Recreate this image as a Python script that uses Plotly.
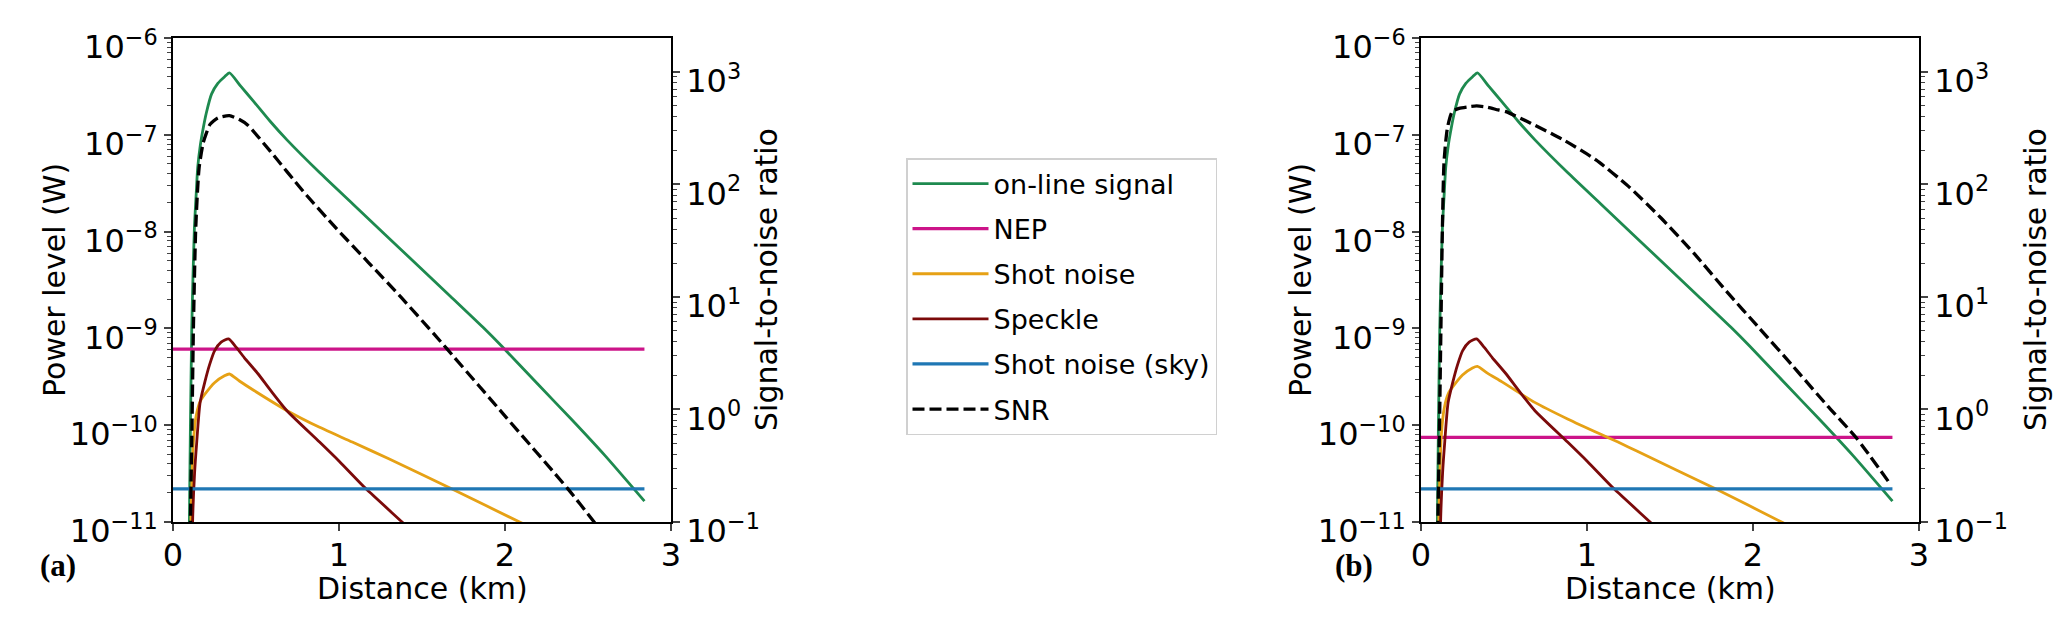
import plotly.graph_objects as go

# ---------------- data ----------------
dist_signal = [0.095, 0.100, 0.105, 0.113, 0.120, 0.129, 0.140, 0.149, 0.165, 0.182, 0.200, 0.232,
               0.270, 0.311, 0.340, 0.409, 0.488, 0.585, 0.685, 0.883, 1.080, 1.277, 1.475, 1.672,
               1.869, 1.978, 2.200, 2.400, 2.600, 2.840]
online_signal = [2.5e-12, 1.6e-11, 1.0e-10, 1.0e-9, 3.2e-9, 1.1e-8, 2.5e-8, 4.6e-8, 7.9e-8, 1.17e-7,
                 1.66e-7, 2.63e-7, 3.39e-7, 3.98e-7, 4.36e-7, 3.16e-7, 2.19e-7, 1.38e-7, 8.91e-8,
                 4.07e-8, 1.95e-8, 9.33e-9, 4.47e-9, 2.14e-9, 1.02e-9, 6.61e-10, 2.63e-10, 1.15e-10,
                 4.9e-11, 1.64e-11]

dist_speckle = [0.112, 0.118, 0.130, 0.143, 0.163, 0.192, 0.220, 0.251, 0.290, 0.335, 0.380, 0.429,
                0.512, 0.587, 0.685, 0.883, 1.004, 1.163, 1.380, 1.420]
speckle = [1e-12, 1.0e-11, 3.2e-11, 6.7e-11, 1.7e-10, 2.8e-10, 4.2e-10, 5.9e-10, 7.2e-10, 7.8e-10,
           6.4e-10, 5.0e-10, 3.4e-10, 2.3e-10, 1.42e-10, 6.7e-11, 4.2e-11, 2.2e-11, 1.0e-11, 8.6e-12]

dist_shot_a = [0.100, 0.108, 0.123, 0.140, 0.165, 0.192, 0.250, 0.310, 0.340, 0.400, 0.488, 0.685,
               0.883, 1.080, 1.300, 1.678, 2.088, 2.150]
shot_noise_a = [1e-12, 1.0e-11, 6.7e-11, 1.26e-10, 1.78e-10, 2.09e-10, 2.75e-10, 3.24e-10, 3.38e-10,
                2.86e-10, 2.28e-10, 1.42e-10, 9.5e-11, 6.7e-11, 4.5e-11, 2.2e-11, 1.0e-11, 8.9e-12]

dist_shot_b = [0.100, 0.108, 0.123, 0.140, 0.165, 0.192, 0.250, 0.310, 0.340, 0.400, 0.488, 0.685,
               0.883, 1.080, 1.187, 1.300, 1.774, 2.172, 2.230]
shot_noise_b = [1e-12, 1.2e-11, 8.1e-11, 1.5e-10, 2.14e-10, 2.5e-10, 3.3e-10, 3.9e-10, 4.05e-10,
                3.45e-10, 2.8e-10, 1.72e-10, 1.16e-10, 8.1e-11, 6.7e-11, 5.4e-11, 2.2e-11, 1.0e-11,
                8.9e-12]

dist_flat = [0.0, 2.84]
nep_a = [6.1e-10, 6.1e-10]
nep_b = [7.5e-11, 7.5e-11]
shot_sky = [2.2e-11, 2.2e-11]

dist_snr_a = [0.100, 0.105, 0.113, 0.123, 0.137, 0.157, 0.182, 0.200, 0.222, 0.270, 0.340, 0.400,
              0.449, 0.587, 0.784, 0.981, 1.179, 1.376, 1.573, 1.652, 2.007, 2.379, 2.537, 2.600]
snr_a = [0.01, 0.1, 0.51, 5.33, 41.0, 139, 234, 282, 339, 389, 408, 376, 337, 196, 86.7, 41.0, 20.1,
         9.84, 4.66, 3.43, 0.851, 0.197, 0.1, 0.076]

dist_snr_b = [0.098, 0.102, 0.110, 0.120, 0.129, 0.139, 0.159, 0.188, 0.230, 0.277, 0.335, 0.400,
              0.465, 0.512, 0.661, 0.858, 1.054, 1.250, 1.446, 1.642, 1.838, 2.035, 2.231, 2.290,
              2.450, 2.622, 2.828]
snr_b = [0.01, 0.1, 0.51, 5.33, 41.0, 160, 316, 443, 473, 486, 497, 484, 458, 443, 349, 248, 165,
         95.9, 50.2, 24.6, 11.3, 5.33, 2.52, 2.0, 1.07, 0.56, 0.216]

series_names = ["on-line signal", "NEP", "Shot noise", "Speckle", "Shot noise (sky)", "SNR"]
x_ticks = [0, 1, 2, 3]
power_exponents = [-11, -10, -9, -8, -7, -6]
snr_exponents = [-1, 0, 1, 2, 3]
panel_labels = ["(a)", "(b)"]
x_title = "Distance (km)"
y_title_left = "Power level (W)"
y_title_right = "Signal-to-noise ratio"

# ---------------- style / layout ----------------
W, H = 2067, 622
C_GREEN = "#1e8a4f"
C_NEP = "#cc1489"
C_SHOT = "#e6a115"
C_SPECK = "#7b0a0a"
C_SKY = "#1f77b4"
FONT = "DejaVu Sans"
TICK_SIZE = 32
TITLE_SIZE = 30
TOP, BOT = 30, 514
PANELS = [(165, 663), (1413, 1911)]

fig = go.Figure()


def add_panel(xa, ya, ya2, shot_x, shot_y, nep, snr_x, snr_y, show):
    sp = dict(shape="spline", smoothing=0.6)
    common = dict(xaxis=xa, yaxis=ya, mode="lines")
    fig.add_trace(go.Scatter(x=dist_signal, y=online_signal, name=series_names[0],
                             line=dict(color=C_GREEN, width=2.8, **sp), legendgroup="g0",
                             showlegend=show, **common))
    fig.add_trace(go.Scatter(x=dist_flat, y=nep, name=series_names[1],
                             line=dict(color=C_NEP, width=3.2), legendgroup="g1",
                             showlegend=show, **common))
    fig.add_trace(go.Scatter(x=shot_x, y=shot_y, name=series_names[2],
                             line=dict(color=C_SHOT, width=2.8, **sp), legendgroup="g2",
                             showlegend=show, **common))
    fig.add_trace(go.Scatter(x=dist_speckle, y=speckle, name=series_names[3],
                             line=dict(color=C_SPECK, width=2.8, **sp), legendgroup="g3",
                             showlegend=show, **common))
    fig.add_trace(go.Scatter(x=dist_flat, y=shot_sky, name=series_names[4],
                             line=dict(color=C_SKY, width=3.2), legendgroup="g4",
                             showlegend=show, **common))
    fig.add_trace(go.Scatter(x=snr_x, y=snr_y, name=series_names[5], xaxis=xa, yaxis=ya2,
                             mode="lines",
                             line=dict(color="black", width=3.3, dash="12px,5px", **sp),
                             legendgroup="g5", showlegend=show))


add_panel("x", "y", "y2", dist_shot_a, shot_noise_a, nep_a, dist_snr_a, snr_a, True)
add_panel("x2", "y3", "y4", dist_shot_b, shot_noise_b, nep_b, dist_snr_b, snr_b, False)

ydom = [1 - BOT / H, 1 - TOP / H]
tickfont = dict(family=FONT, size=TICK_SIZE, color="black")


def log_ticks(exps):
    vals = [10.0 ** e for e in exps]
    text = ["10<sup>%s</sup>" % (str(e).replace("-", "\u2212")) for e in exps]
    minor = [m * 10.0 ** e for e in exps[:-1] for m in range(2, 10)]
    return vals, text, minor


def xaxis_def(dom, anchor):
    return dict(domain=dom, anchor=anchor, range=[0, 3], tickmode="array", tickvals=x_ticks,
                ticks="outside", ticklen=7, tickwidth=1.6, showline=True, linewidth=1.6,
                linecolor="black", mirror=True, showgrid=False, zeroline=False,
                tickfont=tickfont, ticklabeloverflow="allow", ticklabelstandoff=-3)


def yaxis_def(exps, side="left", anchor="x", overlay=None):
    vals, text, minor = log_ticks(exps)
    rng = [exps[0], exps[-1]] if side == "left" else [exps[0], 3.3]
    if side == "right":
        minor = minor + [m * 10.0 ** exps[-1] for m in range(2, 10)]
    d = dict(type="log", range=rng, domain=ydom, anchor=anchor, side=side,
             tickmode="array", tickvals=vals, ticktext=text,
             ticks="outside", ticklen=7, tickwidth=1.6,
             showline=True, linewidth=1.6, linecolor="black", showgrid=False, zeroline=False,
             tickfont=tickfont, ticklabeloverflow="allow", ticklabelshift=9,
             minor=dict(tickmode="array", tickvals=minor, ticks="outside", ticklen=4,
                        tickwidth=1.2, showgrid=False))
    if overlay:
        d["overlaying"] = overlay
    return d


fig.update_layout(
    width=W, height=H,
    margin=dict(l=0, r=0, t=0, b=0, autoexpand=False),
    paper_bgcolor="white", plot_bgcolor="white",
    font=dict(family=FONT, color="black"),
    xaxis=xaxis_def([PANELS[0][0] / W, PANELS[0][1] / W], "y"),
    xaxis2=xaxis_def([PANELS[1][0] / W, PANELS[1][1] / W], "y3"),
    yaxis=yaxis_def(power_exponents, "left", "x"),
    yaxis2=yaxis_def(snr_exponents, "right", "x", overlay="y"),
    yaxis3=yaxis_def(power_exponents, "left", "x2"),
    yaxis4=yaxis_def(snr_exponents, "right", "x2", overlay="y3"),
    legend=dict(x=898 / W, y=1 - 150 / H, xanchor="left", yanchor="top",
                bgcolor="white", bordercolor="#d0d0d0", borderwidth=1.5,
                font=dict(family=FONT, size=27, color="black"),
                itemwidth=76, tracegroupgap=7, traceorder="grouped"),
    showlegend=True,
)

mid_y = 1 - (TOP + BOT) / 2 / H
title_font = dict(family=FONT, size=TITLE_SIZE, color="black")
for (x0, x1), xl, xr in zip(PANELS, [46, 1292], [758, 2027]):
    fig.add_annotation(text=x_title, x=(x0 + x1) / 2 / W, y=1 - 580 / H, xref="paper",
                       yref="paper", showarrow=False, xanchor="center", yanchor="middle",
                       font=title_font)
    fig.add_annotation(text=y_title_left, x=xl / W, y=mid_y, xref="paper", yref="paper",
                       showarrow=False, xanchor="center", yanchor="middle", textangle=-90,
                       font=title_font)
    fig.add_annotation(text=y_title_right, x=xr / W, y=mid_y, xref="paper", yref="paper",
                       showarrow=False, xanchor="center", yanchor="middle", textangle=-90,
                       font=title_font)

for lbl, xp in zip(panel_labels, [50, 1346]):
    fig.add_annotation(text="<b>" + lbl + "</b>", x=xp / W, y=1 - 557 / H, xref="paper",
                       yref="paper", showarrow=False, xanchor="center", yanchor="middle",
                       font=dict(family="Liberation Serif", size=31, color="black"))

fig.write_html("out.html")
